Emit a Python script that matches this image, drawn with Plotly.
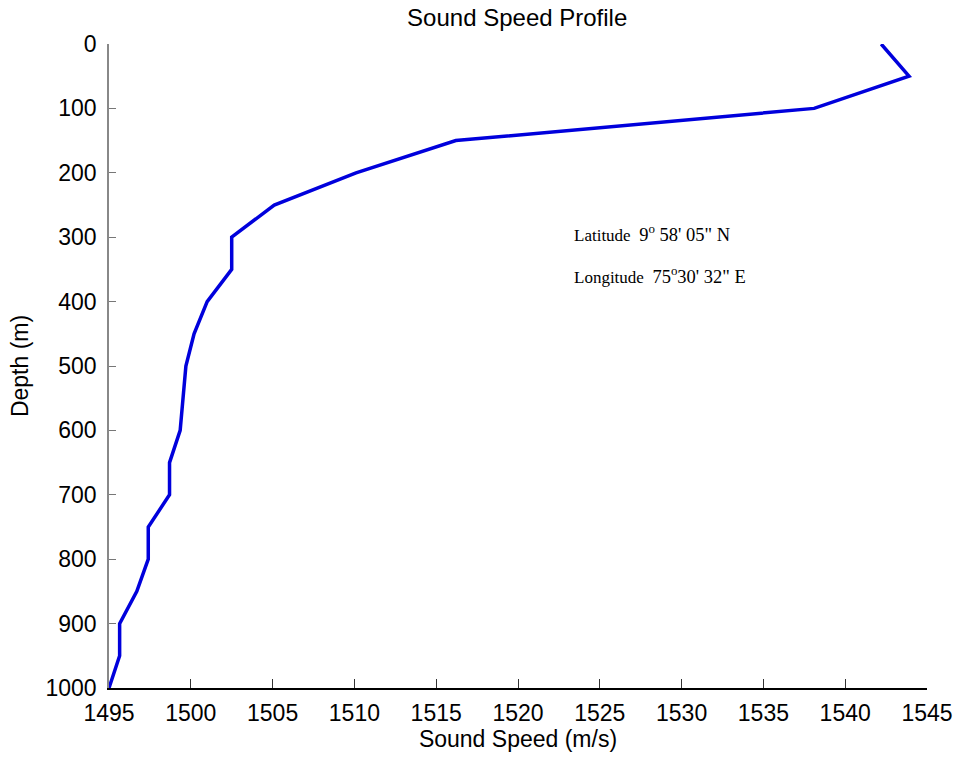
import plotly.graph_objects as go

depth = [0, 50, 100, 150, 200, 250, 300, 350, 400, 450, 500, 550, 600, 650, 700,
         750, 800, 850, 900, 950, 1000]
speed = [1542.2, 1543.9, 1538.1, 1516.2, 1510.1, 1505.1, 1502.5, 1502.5, 1501.0,
         1500.2, 1499.7, 1499.5, 1499.35, 1498.7, 1498.7, 1497.4, 1497.4, 1496.7,
         1495.65, 1495.65, 1495.0]
x_ticks = [1495, 1500, 1505, 1510, 1515, 1520, 1525, 1530, 1535, 1540, 1545]
y_ticks = [0, 100, 200, 300, 400, 500, 600, 700, 800, 900, 1000]

fig = go.Figure()
fig.add_trace(go.Scatter(x=speed, y=depth, mode="lines",
                         line=dict(color="#0000DC", width=3.5), showlegend=False))

font_sans = "Liberation Sans, Arial, sans-serif"
fig.update_layout(
    width=956, height=759,
    margin=dict(l=109, r=29, t=44, b=71),
    paper_bgcolor="white", plot_bgcolor="white",
    font=dict(family=font_sans, size=23, color="black"),
    title=dict(text="Sound Speed Profile", x=0.541, xanchor="center", y=0.988, yanchor="top",
               font=dict(size=24, family=font_sans, color="black")),
)
fig.update_xaxes(range=[1495, 1545], tickvals=x_ticks, ticks="inside", ticklen=9,
                 tickcolor="#333", showline=True, linecolor="black", linewidth=1.5,
                 showgrid=False, zeroline=False, ticklabelstandoff=4, automargin=False,
                 title=dict(text="Sound Speed (m/s)", standoff=4, font=dict(size=23)))
fig.update_yaxes(range=[1000, 0], tickvals=y_ticks, ticks="inside", ticklen=7,
                 tickcolor="#777", showline=True, linecolor="#888", linewidth=1.5,
                 showgrid=False, zeroline=False, ticklabelstandoff=6, automargin=False,
                 title=dict(text="Depth (m)", standoff=10, font=dict(size=23)))

serif = "Liberation Serif, Times New Roman, serif"
lat_text = ("Latitude&nbsp;&nbsp;<span style='font-size:18.5px'>9<sup>o</sup>"
            "&nbsp;58'&nbsp;05\"&nbsp;N</span>")
lon_text = ("Longitude&nbsp;&nbsp;<span style='font-size:18.5px'>75<sup>o</sup>"
            "30'&nbsp;32\"&nbsp;E</span>")
fig.add_annotation(x=1523.3, y=293, xref="x", yref="y", xanchor="left", yanchor="middle",
                   text=lat_text, showarrow=False,
                   font=dict(family=serif, size=17, color="black"))
fig.add_annotation(x=1523.3, y=358, xref="x", yref="y", xanchor="left", yanchor="middle",
                   text=lon_text, showarrow=False,
                   font=dict(family=serif, size=17, color="black"))

fig.write_html("out.html")
